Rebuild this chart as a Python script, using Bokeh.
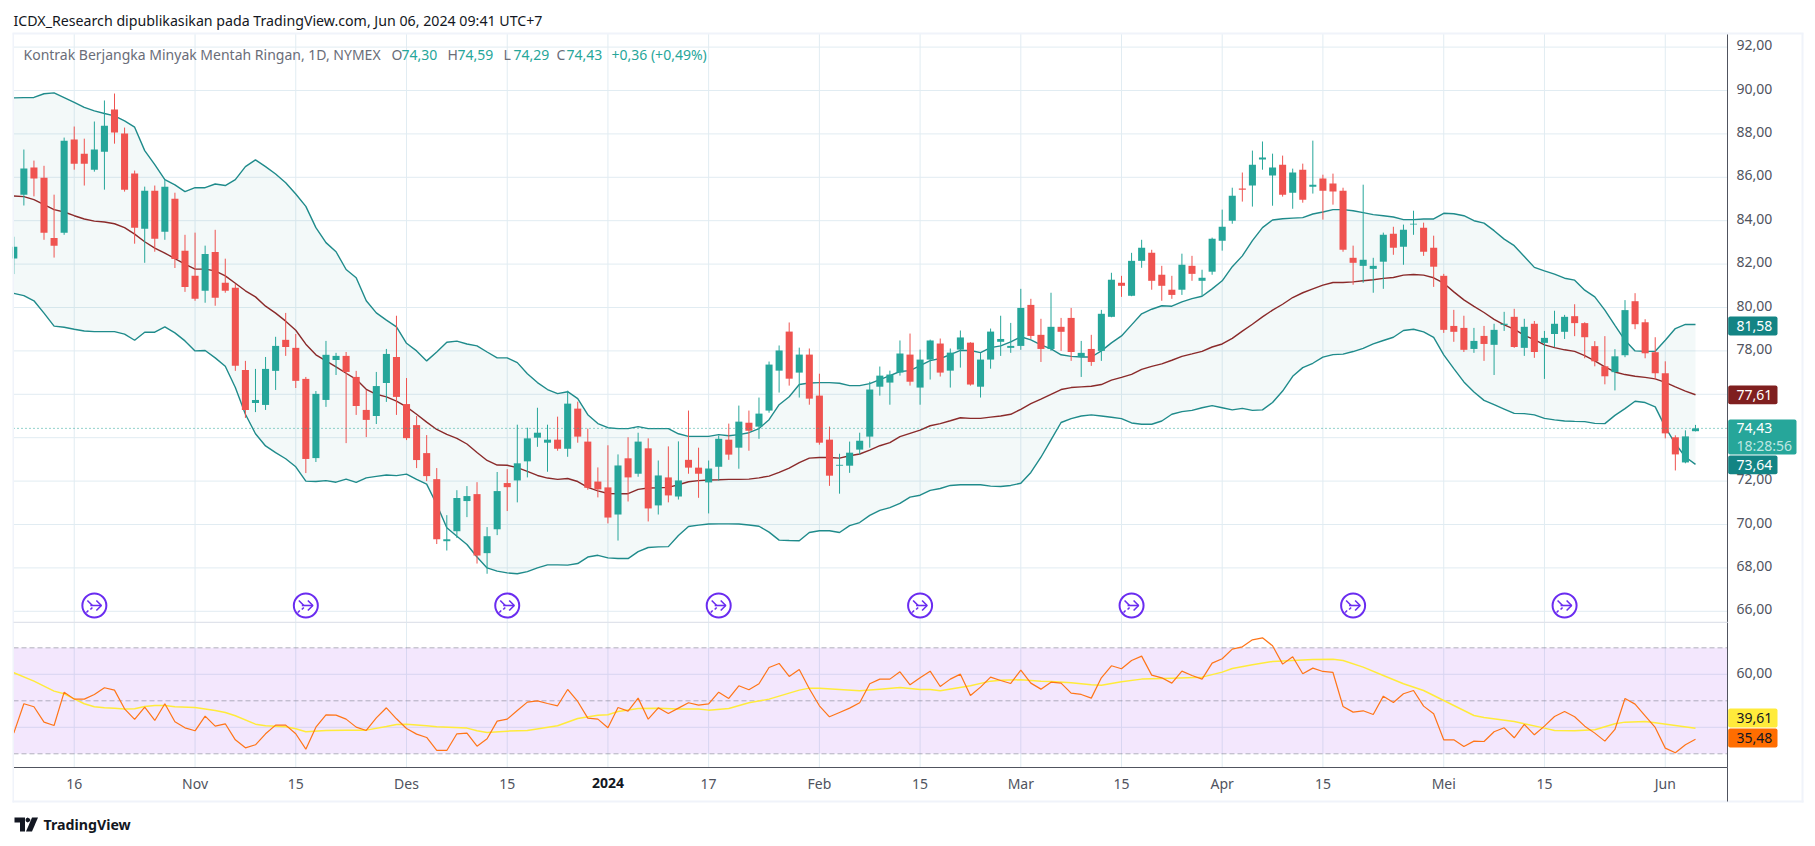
from bokeh.plotting import figure
from bokeh.models import (BoxAnnotation, ColumnDataSource, FixedTicker, Label, LinearAxis, PolyAnnotation,
                          Range1d)
from bokeh.embed import file_html
from bokeh.resources import INLINE

opens = [82.26,85.2,86.45,85.98,83.2,83.45,87.74,87.09,86.35,87.18,89.12,88.02,86.17,83.63,85.38,83.49,85.01,82.62,81.46,80.77,
 82.56,81.14,80.91,77.12,75.6,75.51,77.08,78.51,78.14,76.71,73.06,75.74,77.58,77.77,76.8,75.28,75.0,76.52,77.72,75.55,
 74.58,73.29,72.09,69.23,69.69,71.08,71.4,68.68,69.78,71.91,72.03,72.91,74.0,73.77,73.91,73.49,75.34,73.82,71.98,71.71,
 70.46,73.05,72.34,73.51,70.88,72.17,71.29,72.98,72.62,71.94,72.66,73.91,73.54,74.69,74.51,75.25,77.09,78.89,77.0,77.83,
 75.94,73.91,72.71,72.71,73.45,74.05,76.35,76.54,77.0,77.83,76.31,77.6,78.34,77.09,78.06,78.38,76.35,77.6,78.42,78.14,
 78.23,80.12,78.74,78.09,79.11,79.52,77.72,78.09,78.0,79.57,81.14,80.54,82.15,82.52,81.51,80.82,80.82,81.92,81.23,81.65,
 83.08,84.0,85.48,85.62,86.82,86.08,86.58,85.29,86.35,85.57,85.94,85.71,85.38,82.29,81.92,81.78,82.11,83.4,82.8,83.82,
 83.68,82.75,81.46,79.15,79.06,78.09,78.69,78.28,79.2,79.57,78.14,79.25,78.37,78.78,78.88,79.6,79.28,78.22,77.29,77.02,
 77.8,80.29,79.32,77.94,76.97,74.02,72.86,74.3]
highs = [83.26,87.28,86.77,86.53,85.2,87.83,88.34,87.78,88.57,89.54,89.86,88.29,86.31,85.57,85.62,85.89,85.29,83.35,83.45,82.85,
 83.58,82.25,81.09,77.54,77.17,77.72,78.65,79.75,78.78,76.8,76.15,78.46,77.91,77.95,77.08,76.2,77.03,78.09,79.62,76.75,
 75.0,74.12,72.6,70.43,71.58,71.77,71.95,69.88,72.42,72.55,74.6,74.46,75.38,74.6,74.97,76.17,75.66,74.42,72.63,73.65,
 73.23,74.02,74.23,73.97,72.95,73.6,73.83,75.25,73.54,72.95,74.09,74.65,75.48,75.25,75.85,77.51,78.25,79.31,78.15,78.11,
 76.95,74.51,73.26,73.82,74.23,76.58,77.28,77.09,78.48,78.8,78.06,78.52,78.57,78.11,78.94,78.4,77.92,79.03,79.62,79.29,
 80.86,80.4,79.48,80.68,79.52,79.98,78.46,78.74,79.89,81.6,81.46,82.52,83.12,82.66,81.92,81.46,82.48,82.38,81.74,83.22,
 84.51,85.52,86.22,87.23,87.65,87.09,87.0,86.4,86.63,87.69,86.12,86.17,85.52,82.85,85.66,82.29,83.45,83.72,83.82,84.46,
 83.91,83.31,81.55,79.89,79.62,79.06,79.15,79.25,79.8,79.94,79.48,79.38,78.92,79.85,79.66,80.15,79.32,78.45,78.68,78.08,
 80.34,80.66,79.46,78.63,77.52,74.11,74.34,74.59]
lows = [81.54,84.7,85.12,83.12,82.3,83.35,86.35,85.62,86.26,85.43,87.55,85.34,82.94,82.06,82.57,83.12,81.82,80.72,80.31,80.22,
 80.08,80.68,77.08,74.91,75.18,75.28,76.2,77.77,76.29,72.37,72.88,75.42,76.89,73.75,75.05,74.03,74.63,75.65,75.05,73.89,
 72.6,72.0,69.1,68.8,69.38,70.34,68.2,67.73,69.51,70.62,71.02,72.17,73.58,72.43,73.4,73.12,73.77,71.6,71.25,70.05,
 69.26,71.06,72.2,70.14,70.46,71.02,71.15,72.34,71.23,70.51,72.02,72.98,72.57,73.4,73.95,75.15,76.08,76.4,75.85,75.52,
 73.68,71.78,71.42,72.38,73.22,73.54,75.94,75.52,76.86,76.4,75.52,76.68,76.82,76.31,77.23,76.4,75.85,77.18,77.77,77.91,
 78.05,78.55,77.49,78.0,78.0,77.54,76.8,77.31,77.54,79.55,80.49,80.52,81.83,80.82,80.31,80.4,80.58,81.23,80.54,81.51,
 82.62,83.86,84.88,84.65,86.35,84.69,85.11,84.55,84.83,85.25,84.05,84.74,82.57,81.05,81.14,80.68,80.86,82.43,81.97,83.35,
 82.38,80.95,78.83,78.42,77.95,77.91,77.54,76.89,78.92,78.14,77.77,77.68,76.71,78.18,78.55,78.68,77.66,77.29,76.46,76.18,
 77.71,79.0,77.66,76.69,73.97,72.49,72.82,74.29]
closes = [82.8,86.4,85.95,83.45,82.85,87.69,86.63,86.63,87.28,88.38,88.06,85.43,83.68,85.38,83.17,85.57,82.24,80.95,80.4,82.47,
 80.45,80.77,77.31,75.28,75.74,77.17,78.23,78.18,76.62,73.02,76.02,77.82,77.77,77.03,75.46,74.82,76.38,77.86,75.88,73.98,
 72.97,72.23,69.32,69.32,71.22,71.31,68.57,69.46,71.54,71.72,72.82,73.97,74.23,73.91,73.49,75.57,74.05,71.69,71.62,70.32,
 72.72,72.17,73.82,70.74,72.26,71.34,72.03,72.62,72.34,72.58,73.95,73.22,74.74,74.32,75.11,77.37,78.02,76.72,77.83,75.8,
 73.77,72.25,72.75,73.31,73.86,76.22,76.86,76.91,77.88,76.58,77.6,78.48,77.0,77.92,78.62,76.45,77.6,78.89,78.55,78.23,
 79.98,78.69,78.09,79.11,78.88,77.95,77.91,77.49,79.71,81.28,81.0,82.15,82.75,81.23,81.0,80.58,81.97,81.55,81.37,83.17,
 83.72,85.15,85.43,86.58,86.91,86.45,85.2,86.22,84.97,85.66,85.38,85.34,82.66,82.06,82.2,81.92,83.35,82.75,83.58,83.86,
 82.57,81.88,78.97,78.88,78.05,78.46,78.32,78.97,79.25,78.18,79.11,77.95,78.6,79.25,79.57,79.28,78.63,77.52,76.83,77.75,
 79.88,79.23,77.89,76.97,74.2,73.23,74.06,74.43]
upper = [89.66,89.67,89.68,89.85,89.89,89.67,89.45,89.22,89.06,88.94,88.83,88.6,88.31,87.23,86.58,85.89,85.65,85.34,85.52,85.52,
 85.69,85.62,85.89,86.49,86.8,86.49,86.15,85.75,85.23,84.66,83.68,82.99,82.57,81.75,81.37,80.31,79.75,79.42,79.11,78.35,
 78.0,77.54,77.95,78.4,78.45,78.32,78.23,77.95,77.68,77.68,77.46,76.95,76.54,76.22,76.03,76.12,75.8,75.06,74.65,74.46,
 74.42,74.42,74.51,74.42,74.42,74.42,74.18,74.06,74.06,74.06,74.14,74.09,74.14,74.23,74.42,74.83,75.52,75.89,76.45,76.52,
 76.54,76.54,76.51,76.4,76.4,76.49,76.68,76.86,77.05,77.09,77.32,77.55,77.65,77.83,78.02,78.02,77.92,78.15,78.23,78.42,
 78.65,78.51,78.28,78.09,77.82,77.75,77.72,77.72,78.0,78.37,78.69,79.2,79.71,79.92,80.08,80.06,80.26,80.41,80.52,80.86,
 81.23,81.88,82.38,83.08,83.68,84.03,84.09,84.12,84.14,84.31,84.4,84.51,84.51,84.46,84.37,84.28,84.23,84.17,84.05,84.05,
 84.08,84.08,84.34,84.32,84.23,84.0,83.89,83.54,83.15,82.85,82.35,81.85,81.69,81.54,81.35,81.26,80.8,80.49,79.88,79.18,
 78.49,78.0,77.98,77.98,78.49,79.03,79.22,79.22]
basis = [85.14,85.11,84.97,84.74,84.51,84.4,84.23,84.08,83.98,83.94,83.86,83.68,83.38,83.03,82.74,82.51,82.25,82.0,81.77,81.77,
 81.69,81.46,81.12,80.77,80.49,80.06,79.74,79.37,78.95,78.31,77.82,77.54,77.26,76.97,76.69,76.23,76.0,75.88,75.69,75.42,
 75.08,74.72,74.38,74.15,73.97,73.71,73.32,72.95,72.74,72.73,72.62,72.45,72.26,72.14,72.08,72.12,71.98,71.71,71.55,71.43,
 71.42,71.42,71.62,71.68,71.69,71.71,71.83,71.97,72.02,72.05,72.06,72.08,72.08,72.09,72.15,72.23,72.4,72.6,72.85,73.06,
 73.09,73.09,73.06,73.17,73.25,73.43,73.63,73.77,74.05,74.2,74.35,74.55,74.65,74.78,74.92,74.89,74.89,74.95,75.0,75.08,
 75.31,75.57,75.78,76.0,76.22,76.31,76.34,76.37,76.45,76.65,76.78,76.92,77.15,77.29,77.4,77.57,77.75,77.86,77.98,78.18,
 78.32,78.58,78.91,79.23,79.57,79.88,80.15,80.46,80.68,80.86,81.03,81.15,81.15,81.18,81.23,81.28,81.34,81.38,81.49,81.52,
 81.49,81.37,81.12,80.72,80.35,80.05,79.77,79.45,79.2,79.0,78.72,78.52,78.28,78.15,78.05,77.98,77.78,77.54,77.26,77.03,
 76.91,76.83,76.78,76.71,76.55,76.34,76.15,75.98]
lower = [80.65,80.55,80.31,79.74,79.14,79.09,79.0,78.92,78.89,78.89,78.89,78.77,78.49,78.86,78.86,79.11,78.83,78.46,78.0,78.02,
 77.68,77.29,76.31,75.08,74.18,73.62,73.31,73.03,72.66,72.0,71.98,72.02,71.95,72.09,71.94,72.15,72.22,72.28,72.25,72.32,
 72.08,71.86,70.92,69.85,69.46,69.08,68.5,68.0,67.85,67.77,67.73,67.83,68.0,68.14,68.14,68.13,68.2,68.5,68.58,68.46,
 68.43,68.43,68.75,68.94,68.97,68.98,69.49,69.91,69.97,70.02,70.03,70.03,70.02,69.98,69.92,69.65,69.28,69.26,69.25,69.63,
 69.71,69.71,69.63,69.95,70.09,70.42,70.65,70.78,70.97,71.26,71.35,71.57,71.66,71.8,71.83,71.83,71.83,71.77,71.75,71.8,
 71.9,72.4,73.1,73.9,74.7,74.88,75.0,75.05,75.0,74.94,74.88,74.68,74.62,74.62,74.77,75.08,75.2,75.26,75.38,75.48,
 75.38,75.28,75.35,75.26,75.28,75.62,76.15,76.83,77.23,77.43,77.71,77.83,77.85,77.97,78.12,78.32,78.48,78.63,78.94,79.0,
 78.88,78.62,77.82,77.18,76.57,76.11,75.72,75.52,75.32,75.12,75.11,75.05,74.89,74.82,74.77,74.75,74.74,74.66,74.65,75.03,
 75.34,75.68,75.62,75.42,74.49,73.72,73.11,72.77]
rsi = [37.8,48.87,47.74,41.95,40.69,53.27,50.63,50.63,52.39,54.91,54.03,46.98,42.96,47.61,42.58,48.87,42.08,39.81,38.68,44.21,
 40.44,41.32,35.28,32.26,33.4,37.55,40.82,40.82,37.55,31.76,40.06,44.72,44.59,43.08,40.06,38.81,43.58,47.36,43.21,39.56,
 37.42,36.16,31.26,31.26,37.55,37.8,32.89,35.66,42.33,43.08,46.35,49.5,50.0,48.99,48.11,54.28,49.75,43.46,43.08,39.81,
 47.48,46.1,51.01,43.08,47.36,45.22,47.23,49.25,48.36,48.87,53.27,50.88,55.66,54.15,56.42,62.58,64.09,59.18,61.82,54.53,
 48.11,43.96,45.6,47.23,49.25,56.42,58.18,58.18,60.94,56.04,58.68,61.19,55.41,58.18,60.06,52.01,55.16,58.93,57.67,56.54,
 61.57,56.67,54.4,57.04,56.67,52.89,52.39,51.01,58.68,63.21,62.08,65.22,66.86,59.69,58.68,56.67,61.19,59.56,58.18,64.21,
 65.85,69.5,70.38,73.02,73.77,70.75,63.84,66.6,60.19,62.33,61.07,60.69,47.86,45.72,46.23,44.84,51.76,49.37,52.64,53.9,
 47.99,45.09,35.28,35.28,32.77,34.78,34.65,38.3,39.81,36.04,41.07,37.17,40.44,44.09,45.97,43.96,40.44,37.8,34.78,39.18,
 50.88,48.74,44.34,39.94,32.14,30.38,33.4,35.48]
rsi_ma_idx = [0,2,4,5,6,7,8,9,10,11,12,13,14,15,16,18,20,21,22,24,25,27,28,29,31,33,35,37,38,39,41,42,45,46,47,49,51,54,56,58,59,60,
 62,64,66,68,69,71,73,75,77,78,79,80,82,84,86,88,90,91,92,95,97,98,100,102,103,105,107,108,110,112,115,118,120,121,123,125,127,129,
 131,132,134,136,138,140,142,144,145,146,149,150,152,153,155,157,159,160,162,163,167]
rsi_ma = [60.57,57.42,53.65,52.64,50.75,48.87,47.74,47.36,47.23,46.86,46.98,47.86,48.24,48.24,47.74,47.48,46.35,45.6,44.34,41.19,40.57,
 40.19,39.43,38.3,38.81,38.93,38.93,40.31,41.07,41.19,40.57,40.19,39.69,38.68,38.05,38.55,38.81,40.57,43.33,44.59,44.72,45.97,
 47.11,47.23,46.86,46.86,46.48,47.11,49.25,50.63,52.89,54.03,54.78,54.78,54.28,53.77,54.4,55.03,54.28,54.28,53.77,55.66,57.42,57.8,
 57.92,57.42,57.3,56.79,56.04,55.91,57.17,58.18,58.55,58.93,60.82,62.2,63.58,64.84,65.22,65.6,65.72,65.22,62.7,59.56,56.42,53.9,
 50.13,46.35,44.47,43.71,42.2,41.32,39.69,38.81,38.68,39.06,41.32,41.95,42.2,41.7,39.61]
price_ticks = [66,68,70,72,74,76,78,80,82,84,86,88,90,92]
time_ticks = [6,18,28,39,49,59,69,80,90,100,110,120,130,142,152,164]
time_labels = ["16","Nov","15","Des","15","2024","17","Feb","15","Mar","15","Apr","15","Mei","15","Jun"]
event_bars = [8,29,49,70,90,111,133,154]
last_price = 74.43
rsi_grid = [40, 60]
rsi_levels = [70, 50, 30]

GREEN, RED = "#26a69a", "#ef5350"
TEAL, MAROON = "#138484", "#801922"
GRID, PALE, AXIS = "#e1ecf2", "#f0f3fa", "#50535e"
FONT = "Noto Sans"

# page pixel -> data helpers (for decoration placement only)
X = lambda px: (px - 13.3) / 10.07
Y1 = lambda py: 90 - (py - 90) / 21.7
Y2 = lambda py: 50 - (py - 700.3) / 2.65

W, H = 1815, 846
p = figure(width=W, height=H, x_range=Range1d(X(0), X(W)), y_range=Range1d(Y1(H), Y1(0)),
           output_backend="svg", toolbar_location=None, x_axis_location=None, y_axis_location=None,
           min_border=0, min_border_left=0, min_border_right=0, min_border_top=0, min_border_bottom=0,
           background_fill_color="white", border_fill_color="white", outline_line_color=None)
# the axis scales sit a little above the panes so that the tick labels ride above their grid lines
d1, d2 = 2 / 21.7, 1.5 / 2.65
p.extra_y_ranges = {"rsi": Range1d(Y2(H), Y2(0)),
                    "price_axis": Range1d(Y1(H) - d1, Y1(0) - d1),
                    "rsi_axis": Range1d(Y2(H) - d2, Y2(0) - d2)}
p.grid.visible = False

# grid lines
p.segment(x0=time_ticks, x1=time_ticks, y0=[Y1(33)] * len(time_ticks), y1=[Y1(767)] * len(time_ticks),
          line_color=GRID, line_width=1)
p.segment(x0=[X(13)] * len(price_ticks), x1=[X(1727)] * len(price_ticks), y0=price_ticks, y1=price_ticks,
          line_color=GRID, line_width=1)
p.segment(x0=[X(13)] * 2, x1=[X(1727)] * 2, y0=rsi_grid, y1=rsi_grid, line_color=GRID, line_width=1, y_range_name="rsi")

# price axis
ya = LinearAxis(fixed_location=X(1727), y_range_name="price_axis", ticker=FixedTicker(ticks=price_ticks),
                major_label_overrides={t: f"{t},00" for t in price_ticks},
                bounds=(Y1(622) - d1, Y1(33) - d1))
# RSI axis
ra = LinearAxis(fixed_location=X(1727), y_range_name="rsi_axis", ticker=FixedTicker(ticks=[60]),
                major_label_overrides={60: "60,00"}, bounds=(Y2(767) - d2, Y2(622) - d2))
for a in (ya, ra):
    a.axis_line_color = AXIS
    a.major_tick_line_color = None
    a.minor_tick_line_color = None
    a.major_label_text_font = FONT
    a.major_label_text_font_size = "14px"
    a.major_label_text_color = AXIS
    a.major_label_standoff = 3
    p.add_layout(a, "right")

# time axis
ta = LinearAxis(fixed_location=Y1(767), ticker=FixedTicker(ticks=time_ticks),
                major_label_overrides={t: ("" if s == "2024" else s) for t, s in zip(time_ticks, time_labels)},
                bounds=(X(13), X(1727)))
ta.axis_line_color = AXIS
ta.major_tick_line_color = None
ta.minor_tick_line_color = None
ta.major_label_text_font = FONT
ta.major_label_text_font_size = "14px"
ta.major_label_text_color = AXIS
ta.major_label_standoff = 0
p.add_layout(ta, "below")

# Bollinger bands
idx = list(range(len(closes)))
p.varea(x=idx, y1=lower, y2=upper, fill_color=TEAL, fill_alpha=0.05)
p.line(idx, upper, line_color="#1f8b8b", line_width=1.4)
p.line(idx, lower, line_color="#1f8b8b", line_width=1.4)
p.line(idx, basis, line_color="#8a2a2a", line_width=1.4)

# candles
cols = [GREEN if c >= o else RED for o, c in zip(opens, closes)]
src = ColumnDataSource(dict(x=idx, o=opens, h=highs, l=lows, c=closes,
                            t=[max(a, b) for a, b in zip(opens, closes)],
                            b=[min(a, b) for a, b in zip(opens, closes)], col=cols))
p.segment(x0="x", x1="x", y0="l", y1="h", line_color="col", line_width=1, source=src)
p.vbar(x="x", width=0.7, top="t", bottom="b", fill_color="col", line_color=None, source=src)

p.segment(x0=[X(13)], x1=[X(1727)], y0=[last_price], y1=[last_price], line_color=GREEN, line_dash="1 3", line_width=1)

# event markers
ev_y = Y1(605)
p.scatter(event_bars, [ev_y] * len(event_bars), marker="circle", size=24, fill_color="white",
          line_color="#6a2cf0", line_width=2)
shapes = [[(-4, 0), (7, 0)], [(2, -5), (7, 0), (2, 5)], [(-7, -5), (-2, 0)], [(-2, 2), (-4, 4)], [(-6, 5), (-8, 7)]]
xs, ys = [], []
for e in event_bars:
    for s in shapes:
        xs.append([e + dx / 10.07 for dx, dy in s])
        ys.append([ev_y - dy / 21.7 for dx, dy in s])
p.multi_line(xs, ys, line_color="#6a2cf0", line_width=1.6)

# RSI pane
p.quad(left=[X(13)], right=[X(1727)], bottom=[30], top=[70], fill_color="#8a17f0", fill_alpha=0.1, line_color=None,
       y_range_name="rsi")
p.segment(x0=[X(13)] * 3, x1=[X(1727)] * 3, y0=rsi_levels, y1=rsi_levels, line_color="#787b86", line_alpha=0.55,
          line_dash="5 3", line_width=1, y_range_name="rsi")
p.line(rsi_ma_idx, rsi_ma, line_color="#ffeb3b", line_width=1.5, y_range_name="rsi")
p.line(idx, rsi, line_color="#ff7518", line_width=1.2, y_range_name="rsi")


def box(x0, x1, y0, y1, color, radius=0):
    p.add_layout(BoxAnnotation(left=X(x0), right=X(x1), top=Y1(y0), bottom=Y1(y1),
                               fill_color=color, fill_alpha=1, line_color=None, border_radius=radius))


def text(x, y, s, color, size="14px", style="normal", align="left", font=FONT):
    p.add_layout(Label(x=X(x), y=Y1(y), text=s, text_color=color, text_font=font, text_font_size=size,
                       text_font_style=style, text_align=align, text_baseline="middle"))


# frame decoration
box(0, 12, 33, 802, "white")           # hides the half of the first candle outside the pane
box(12, 1803, 32, 34, PALE)
box(12, 13.5, 33, 802, PALE)
box(1801, 1803, 33, 802, PALE)
box(12, 1803, 800, 802, PALE)
box(13, 1727, 621.3, 622.6, "#e0e3eb")
box(1726.5, 1727.5, 767, 801, AXIS)

# header
text(13, 20, "ICDX_Research dipublikasikan pada TradingView.com, Jun 06, 2024 09:41 UTC+7", "#131722", "14.2px")
GREY = "#6a6d78"
text(23, 54, "Kontrak Berjangka Minyak Mentah Ringan, 1D, NYMEX", GREY, "14px")
for lx, vx, l, v in [(391, 401, "O", "74,30"), (447, 457, "H", "74,59"), (503, 513, "L", "74,29"), (556, 566, "C", "74,43")]:
    text(lx, 54, l, GREY, "14px")
    text(vx, 54, v, GREEN, "14px")
text(611, 54, "+0,36 (+0,49%)", GREEN, "14px")

# price tags
for y0, y1, c, s in [(316, 335, TEAL, "81,58"), (385, 403.7, "#7f1f1f", "77,61"), (455, 473.7, TEAL, "73,64")]:
    box(1727.7, 1777, y0, y1, c, 2)
    text(1736, (y0 + y1) / 2, s, "white")
box(1727.7, 1796, 419, 454, GREEN, 2)
text(1736, 427, "74,43", "white")
text(1736, 445, "18:28:56", "#bfe6e2")

# bold year on the time axis
text(13.3 + 10.07 * time_ticks[time_labels.index("2024")], 782.5, "2024", "#131722", "14px", "bold", "center")

# RSI tags
box(1727.7, 1777, 708, 727, "#ffeb3b", 2)
text(1736, 717.5, "39,61", "#131722")
box(1727.7, 1777, 728, 747, "#ff6d00", 2)
text(1736, 737.5, "35,48", "#131722")


# footer logo
def poly(pts):
    p.add_layout(PolyAnnotation(xs=[X(a) for a, b in pts], ys=[Y1(b) for a, b in pts], fill_color="#131722",
                                fill_alpha=1, line_color=None))


poly([(14, 817), (24.5, 817), (24.5, 831), (19.5, 831), (19.5, 822), (14, 822)])
poly([(27, 817), (29, 818), (30, 819.5), (29, 821), (27, 822), (25.5, 821), (25, 819.5), (25.5, 818)])
poly([(31.5, 817), (37.5, 817), (31.5, 831), (25.5, 831)])
text(43, 824, "TradingView", "#131722", "14.2px", "bold")

open("out.html", "w").write(file_html(p, INLINE))
